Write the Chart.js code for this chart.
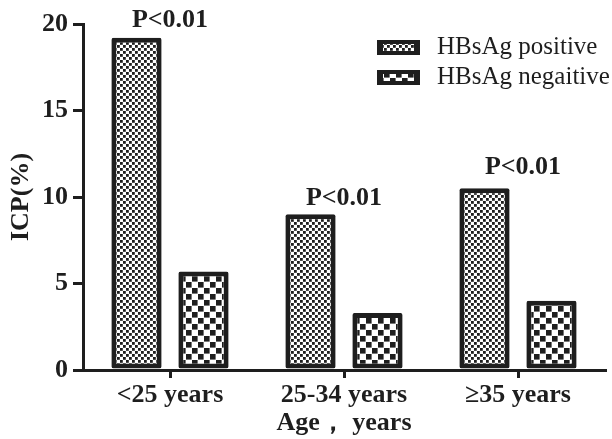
<!DOCTYPE html>
<html>
<head>
<meta charset="utf-8">
<script src="https://cdn.jsdelivr.net/npm/chart.js@4.4.1/dist/chart.umd.min.js"></script>
<style>
  html, body { margin: 0; padding: 0; background: #fff; }
  #wrap { width: 612px; height: 439px; }
</style>
</head>
<body>
<div id="wrap"><canvas id="chart" width="612" height="439"></canvas></div>
<script>
// data
const categories = ['<25 years', '25-34 years', '\u226535 years'];
const positiveValues = [19.2, 9.0, 10.5];
const negativeValues = [5.7, 3.3, 4.0];
const seriesNames = ['HBsAg positive', 'HBsAg negaitive']; // spelling as in the figure
const pLabels = ['P<0.01', 'P<0.01', 'P<0.01'];
const pLabelLevels = [20.2, 9.9, 11.7]; // where the P text sits, in y units
const yTicks = [0, 5, 10, 15, 20];

const INK = '#1e1e1e';
const SERIF = '"Liberation Serif", "Times New Roman", serif';

// fine checker for positive, coarse checker for negative
function makePattern(tile, dot) {
    const c = document.createElement('canvas');
    c.width = tile; c.height = tile;
    const g = c.getContext('2d');
    g.fillStyle = '#fff';
    g.fillRect(0, 0, tile, tile);
    g.fillStyle = INK;
    const h = tile / 2;
    g.fillRect(0, 0, dot, dot);
    g.fillRect(h, h, dot, dot);
    return document.getElementById('chart').getContext('2d').createPattern(c, 'repeat');
}
const finePattern = makePattern(6, 2.8);
const coarsePattern = makePattern(12, 5.6);
const patterns = [finePattern, coarsePattern];

// P<0.01 labels above each group
const pValuePlugin = {
    id: 'pValues',
    afterDatasetsDraw(chart) {
        const ctx = chart.ctx;
        const xs = chart.scales.x, ys = chart.scales.y;
        ctx.save();
        ctx.font = 'bold 26px ' + SERIF;
        ctx.fillStyle = INK;
        ctx.textAlign = 'center';
        ctx.textBaseline = 'middle';
        pLabels.forEach((t, i) => {
            ctx.fillText(t, xs.getPixelForValue(i) + (i === 2 ? 5 : 0), ys.getPixelForValue(pLabelLevels[i]));
        });
        ctx.restore();
    }
};

// legend drawn by hand, top right, stacked
const legendPlugin = {
    id: 'boxLegend',
    afterDraw(chart) {
        const ctx = chart.ctx;
        const x0 = 377, w = 43, h = 15;
        const rows = [40, 70];
        ctx.save();
        seriesNames.forEach((name, i) => {
            const y = rows[i];
            ctx.fillStyle = INK;
            ctx.fillRect(x0, y, w, h);
            ctx.fillStyle = patterns[i];
            ctx.fillRect(x0 + 6, y + 4, w - 12, h - 8);
            ctx.fillStyle = INK;
            ctx.font = '25px ' + SERIF;
            ctx.textAlign = 'left';
            ctx.textBaseline = 'middle';
            ctx.fillText(name, 437, y + h / 2);
        });
        ctx.restore();
    }
};

const boldFont = { family: SERIF, size: 26, weight: 'bold' };

new Chart(document.getElementById('chart'), {
    type: 'bar',
    data: {
        labels: categories,
        datasets: [
            {
                label: seriesNames[0],
                data: positiveValues,
                backgroundColor: finePattern,
                borderColor: INK,
                borderWidth: 5,
                borderSkipped: false,
                borderRadius: 2
            },
            {
                label: seriesNames[1],
                data: negativeValues,
                backgroundColor: coarsePattern,
                borderColor: INK,
                borderWidth: 5,
                borderSkipped: false,
                borderRadius: 2
            }
        ]
    },
    options: {
        responsive: false,
        animation: false,
        layout: { padding: { top: 24, right: 7, left: 0, bottom: 0 } },
        datasets: { bar: { categoryPercentage: 0.77, barPercentage: 0.75 } },
        plugins: {
            legend: { display: false },
            tooltip: { enabled: false }
        },
        scales: {
            x: {
                offset: true,
                grid: { display: true, drawOnChartArea: false, offset: false, tickLength: 8, lineWidth: 3, color: INK },
                border: { display: true, width: 3, color: INK },
                ticks: { color: INK, font: boldFont, padding: 2 },
                title: { display: true, text: 'Age\uFF0C years', color: INK, font: boldFont, padding: { top: 0, bottom: 0 } },
                afterFit(scale) { scale.height = 69; }
            },
            y: {
                min: 0,
                max: 20,
                afterBuildTicks(scale) { scale.ticks = yTicks.map(v => ({ value: v })); },
                grid: { display: true, drawOnChartArea: false, tickLength: 10, lineWidth: 3, color: INK },
                border: { display: true, width: 3, color: INK },
                ticks: { color: INK, font: boldFont, padding: 5 },
                title: { display: true, text: 'ICP(%)', color: INK, font: boldFont, padding: { top: 6, bottom: 0 } },
                afterFit(scale) { scale.width = 83; }
            }
        }
    },
    plugins: [pValuePlugin, legendPlugin]
});
</script>
</body>
</html>
